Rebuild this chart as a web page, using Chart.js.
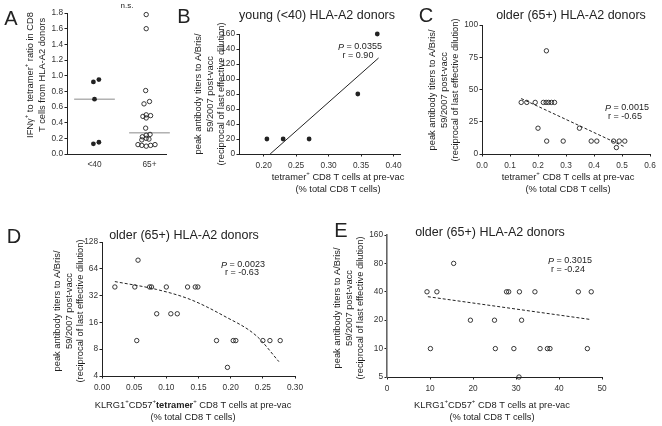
<!DOCTYPE html>
<html>
<head>
<meta charset="utf-8">
<script src="https://cdn.jsdelivr.net/npm/chart.js@4.4.0/dist/chart.umd.min.js"></script>
<style>
html, body { margin: 0; padding: 0; background: #fff; }
#wrap { position: relative; width: 662px; height: 426px; overflow: hidden; }
canvas { position: absolute; left: 0; top: 0; }
</style>
</head>
<body>
<div id="wrap">
  <canvas id="cA" width="662" height="426"></canvas>
  <canvas id="cB" width="662" height="426"></canvas>
  <canvas id="cC" width="662" height="426"></canvas>
  <canvas id="cD" width="662" height="426"></canvas>
  <canvas id="cE" width="662" height="426"></canvas>
</div>
<script>
// panel A: ratio per age group (x = group position with jitter)
var aGroups = ['<40', '65+'];
var aYoungY = [0.92, 0.95, 0.70, 0.13, 0.15];
var aYoungX = [0.98, 1.08, 1.00, 0.98, 1.08];
var aOldY = [1.78, 1.60, 0.81, 0.64, 0.67, 0.48, 0.50, 0.46, 0.49, 0.33, 0.22, 0.24, 0.25, 0.18, 0.20, 0.19, 0.12, 0.11, 0.10, 0.11, 0.12];
var aOldX = [1.94, 1.94, 1.93, 1.90, 2.00, 1.88, 1.94, 1.94, 2.02, 1.93, 1.87, 1.94, 2.01, 1.86, 1.94, 1.99, 1.79, 1.86, 1.94, 2.02, 2.10];
var aMedians = [0.70, 0.27];
var aTicks = [0, 0.2, 0.4, 0.6, 0.8, 1.0, 1.2, 1.4, 1.6, 1.8];

// panel B: young donors
var bX = [0.205, 0.23, 0.27, 0.345, 0.375];
var bY = [20, 20, 20, 80, 160];
var bFitX = [0.21, 0.377];
var bFitY = [0, 128];
var bTicksX = [0.20, 0.25, 0.30, 0.35, 0.40];
var bTicksY = [0, 20, 40, 60, 80, 100, 120, 140, 160];

// panel C: older donors, tetramer+
var cX = [0.14, 0.16, 0.19, 0.219, 0.229, 0.238, 0.248, 0.259, 0.23, 0.20, 0.231, 0.29, 0.348, 0.39, 0.41, 0.47, 0.49, 0.51, 0.48];
var cY = [40, 40, 40, 40, 40, 40, 40, 40, 80, 20, 10, 10, 20, 10, 10, 10, 10, 10, 5];
var cFitX = [0.14, 0.51];
var cFitY = [43, 5.5];
var cTicksX = [0, 0.1, 0.2, 0.3, 0.4, 0.5, 0.6];
var cTicksY = [0, 25, 50, 75, 100];

// panel D: older donors, KLRG1+CD57+tetramer+
var dX = [0.020, 0.051, 0.056, 0.054, 0.074, 0.077, 0.085, 0.100, 0.107, 0.117, 0.133, 0.145, 0.149, 0.178, 0.195, 0.204, 0.208, 0.250, 0.261, 0.277];
var dY = [40, 40, 80, 10, 40, 40, 20, 40, 20, 20, 40, 40, 40, 10, 5, 10, 10, 10, 10, 10];
var dFitX = [0.02, 0.085, 0.137, 0.189, 0.24, 0.275];
var dFitY = [46, 37.5, 29, 19, 11.3, 5.8];
var dTicksX = [0, 0.05, 0.10, 0.15, 0.20, 0.25, 0.30];
var dTicksY = [4, 8, 16, 32, 64, 128];

// panel E: older donors, KLRG1+CD57+
var eX = [9.3, 11.6, 15.5, 10.1, 19.4, 25.0, 25.2, 27.8, 28.3, 29.5, 30.7, 30.8, 31.3, 34.4, 35.6, 37.3, 37.9, 44.5, 46.6, 47.5];
var eY = [40, 40, 80, 10, 20, 20, 10, 40, 40, 10, 5, 40, 20, 40, 10, 10, 10, 40, 10, 40];
var eFitX = [9.5, 47.5];
var eFitY = [35.5, 20.3];
var eTicksX = [0, 10, 20, 30, 40, 50];
var eTicksY = [5, 10, 20, 40, 80, 160];

var FONT = '"Liberation Sans", Arial, sans-serif';
var INK = '#222';
var YW = 30, XH = 20;

function scaleOpts(type, min, max, tickVals, fmt, horizontal, noTicks) {
    return {
        type: type, min: min, max: max,
        border: { color: INK, width: 1 },
        grid: { drawOnChartArea: false, drawTicks: !noTicks, tickLength: 2.5, color: INK },
        ticks: { font: { family: FONT, size: 8.3 }, color: '#333', padding: noTicks ? 6 : (horizontal ? 4 : 1.5), autoSkip: false, maxRotation: 0, callback: fmt },
        afterBuildTicks: function(s) {
            s.ticks = tickVals.map(function(v) { return { value: v }; });
        },
        afterFit: function(s) {
            if (horizontal) s.height = XH; else s.width = YW;
            s.paddingLeft = s.paddingRight = s.paddingTop = s.paddingBottom = 0;
        }
    };
}

function pts(xs, ys, filled) {
    return {
        data: xs.map(function(x, i) { return { x: x, y: ys[i] }; }),
        showLine: false,
        pointRadius: filled ? 2.4 : 2.2,
        pointBorderWidth: filled ? 0 : 0.9,
        pointBackgroundColor: filled ? INK : 'rgba(0,0,0,0)',
        pointBorderColor: INK,
        clip: false
    };
}

function fitLine(xs, ys, dashed, smooth, color) {
    return {
        data: xs.map(function(x, i) { return { x: x, y: ys[i] }; }),
        showLine: true, pointRadius: 0,
        borderColor: color || INK, borderWidth: 1,
        borderDash: dashed ? [3, 2] : [],
        tension: smooth ? 0.4 : 0,
        cubicInterpolationMode: smooth ? 'monotone' : 'default',
        clip: false
    };
}

// rich text: segments with italic / bold / superscript
function t(s) { return { t: s }; }
function sup(s) { return { t: s, sup: true }; }
function it(s) { return { t: s, italic: true }; }
function bd(s) { return { t: s, bold: true }; }

function fontStr(seg, size) {
    var sz = seg.sup ? size * 0.65 : size;
    return (seg.italic ? 'italic ' : '') + (seg.bold ? 'bold ' : '') + sz + 'px ' + FONT;
}

function drawRich(ctx, item) {
    var segs = item.segs || [t(item.s)];
    ctx.save();
    ctx.translate(item.x, item.y);
    if (item.rot) ctx.rotate(item.rot * Math.PI / 180);
    ctx.textBaseline = 'middle';
    ctx.textAlign = 'left';
    ctx.fillStyle = item.color || INK;
    var widths = segs.map(function(s) { ctx.font = fontStr(s, item.size); return ctx.measureText(s.t).width; });
    var total = widths.reduce(function(a, b) { return a + b; }, 0);
    var x = item.align === 'left' ? 0 : -total / 2;
    segs.forEach(function(s, i) {
        ctx.font = fontStr(s, item.size);
        ctx.fillText(s.t, x, s.sup ? -item.size * 0.35 : 0);
        x += widths[i];
    });
    ctx.restore();
}

function makePanel(id, box, xScale, yScale, datasets, texts) {
    new Chart(document.getElementById(id), {
        type: 'scatter',
        data: { datasets: datasets },
        options: {
            responsive: false, animation: false, devicePixelRatio: 1, events: [],
            layout: { padding: { left: box.l - YW, top: box.t, right: 662 - box.r, bottom: 426 - box.b - XH } },
            scales: { x: xScale, y: yScale },
            plugins: { legend: { display: false }, tooltip: { enabled: false } }
        },
        plugins: [{
            id: 'txt' + id,
            afterDraw: function(c) { texts.forEach(function(item) { drawRich(c.ctx, item); }); }
        }]
    });
}

var yTitle = ['peak antibody titers to A/Bris/', '59/2007 post-vacc', '(reciprocal of last effective dilution)'];
function yTitleItems(xs, y) {
    return yTitle.map(function(s, i) { return { x: xs[i], y: y, rot: -90, size: 9.3, s: s }; });
}
var TS = 9.3, AS = 9;

// A
var medianSets = aMedians.map(function(m, i) {
    return fitLine([i + 1 - 0.37, i + 1 + 0.37], [m, m], false, false, '#8a8a8a');
});
makePanel('cA', { l: 67, r: 166, t: 13, b: 154 },
    scaleOpts('linear', 0.5, 2.3, [1, 2], function(v) { return aGroups[Math.round(v) - 1]; }, true, true),
    scaleOpts('linear', 0, 1.8, aTicks, function(v) { return v.toFixed(1); }, false),
    [pts(aYoungX, aYoungY, true), pts(aOldX, aOldY, false)].concat(medianSets),
    [
        { x: 11, y: 19, size: 20, s: 'A' },
        { x: 127, y: 6, size: 8, s: 'n.s.' },
        { x: 30, y: 75, rot: -90, size: TS, segs: [t('IFNγ'), sup('+'), t(' to tetramer'), sup('+'), t(' ratio in CD8')] },
        { x: 42, y: 75, rot: -90, size: TS, s: 'T cells from HLA-A2 donors' }
    ]);

// B
makePanel('cB', { l: 239, r: 400, t: 34, b: 154 },
    scaleOpts('linear', 0.162, 0.41, bTicksX, function(v) { return v.toFixed(2); }, true),
    scaleOpts('linear', 0, 160, bTicksY, function(v) { return v; }, false),
    [pts(bX, bY, true), fitLine(bFitX, bFitY, false, false)],
    [
        { x: 184, y: 17, size: 20, s: 'B' },
        { x: 317, y: 16, size: 12.5, s: 'young (<40) HLA-A2 donors' },
        { x: 338, y: 177, size: TS, segs: [t('tetramer'), sup('+'), t(' CD8 T cells at pre-vac')] },
        { x: 338, y: 189, size: TS, s: '(% total CD8 T cells)' },
        { x: 360, y: 47, size: AS, segs: [it('P'), t(' = 0.0355')] },
        { x: 358, y: 56, size: AS, s: 'r = 0.90' }
    ].concat(yTitleItems([198, 210, 221], 94)));

// C
makePanel('cC', { l: 482, r: 650, t: 25, b: 154 },
    scaleOpts('linear', 0, 0.6, cTicksX, function(v) { return v.toFixed(1); }, true),
    scaleOpts('linear', 0, 100, cTicksY, function(v) { return v; }, false),
    [pts(cX, cY, false), fitLine(cFitX, cFitY, true, false)],
    [
        { x: 426, y: 16, size: 20, s: 'C' },
        { x: 571, y: 16, size: 12.5, s: 'older (65+) HLA-A2 donors' },
        { x: 568, y: 177, size: TS, segs: [t('tetramer'), sup('+'), t(' CD8 T cells at pre-vac')] },
        { x: 568, y: 189, size: TS, s: '(% total CD8 T cells)' },
        { x: 627, y: 108, size: AS, segs: [it('P'), t(' = 0.0015')] },
        { x: 625, y: 117, size: AS, s: 'r = -0.65' }
    ].concat(yTitleItems([432, 444, 455], 90)));

// D
var dYScale = scaleOpts('logarithmic', 4, 128, dTicksY, function(v) { return v; }, false);
makePanel('cD', { l: 102, r: 295, t: 242, b: 376 },
    scaleOpts('linear', 0, 0.30, dTicksX, function(v) { return v.toFixed(2); }, true),
    dYScale,
    [pts(dX, dY, false), fitLine(dFitX, dFitY, true, true)],
    [
        { x: 14, y: 237, size: 20, s: 'D' },
        { x: 184, y: 236, size: 12.5, s: 'older (65+) HLA-A2 donors' },
        { x: 193, y: 405, size: TS, segs: [t('KLRG1'), sup('+'), t('CD57'), sup('+'), bd('tetramer'), sup('+'), t(' CD8 T cells at pre-vac')] },
        { x: 193, y: 417, size: TS, s: '(% total CD8 T cells)' },
        { x: 243, y: 265, size: AS, segs: [it('P'), t(' = 0.0023')] },
        { x: 242, y: 273, size: AS, s: 'r = -0.63' }
    ].concat(yTitleItems([57, 69, 80], 311)));

// E
var eYScale = scaleOpts('logarithmic', 5, 160, eTicksY, function(v) { return v; }, false);
eYScale.border = { color: '#666', width: 1.6 };
makePanel('cE', { l: 387, r: 602, t: 235, b: 377 },
    scaleOpts('linear', 0, 50, eTicksX, function(v) { return v; }, true),
    eYScale,
    [pts(eX, eY, false), fitLine(eFitX, eFitY, true, false)],
    [
        { x: 341, y: 231, size: 20, s: 'E' },
        { x: 490, y: 233, size: 12.5, s: 'older (65+) HLA-A2 donors' },
        { x: 492, y: 405, size: TS, segs: [t('KLRG1'), sup('+'), t('CD57'), sup('+'), t(' CD8 T cells at pre-vac')] },
        { x: 492, y: 417, size: TS, s: '(% total CD8 T cells)' },
        { x: 570, y: 261, size: AS, segs: [it('P'), t(' = 0.3015')] },
        { x: 568, y: 270, size: AS, s: 'r = -0.24' }
    ].concat(yTitleItems([337, 349, 360], 308)));
</script>
</body>
</html>
